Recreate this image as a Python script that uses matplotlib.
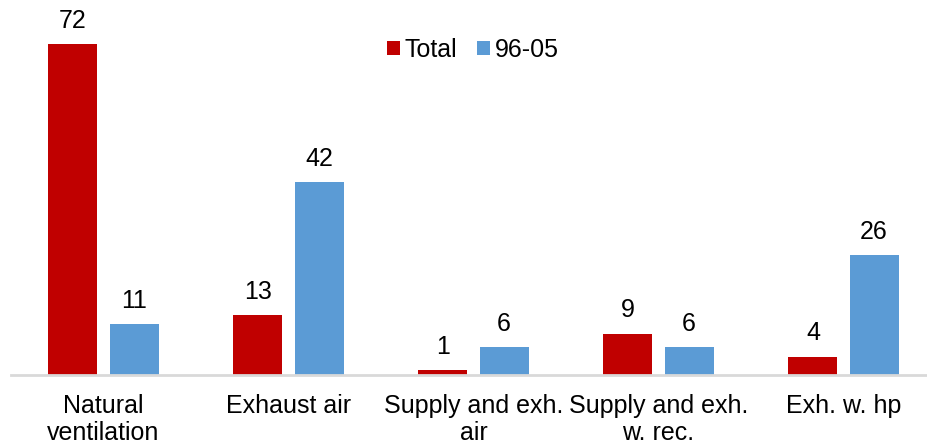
import matplotlib
matplotlib.use("Agg")
import matplotlib.pyplot as plt
import numpy as np

plt.rcParams['font.family'] = ['Liberation Sans', 'DejaVu Sans']

categories = ["Natural\nventilation", "Exhaust air", "Supply and exh.\nair",
              "Supply and exh.\nw. rec.", "Exh. w. hp"]
total = [72, 13, 1, 9, 4]
recent = [11, 42, 6, 6, 26]
series_names = ["Total", "96-05"]

RED = "#C00000"
BLUE = "#5B9BD5"

W, H = 927, 448
fig = plt.figure(figsize=(W / 100, H / 100), dpi=100)
ax = fig.add_axes([11 / W, 1 - 375 / H, 925 / W, 368 / H])

x = np.arange(len(categories))
bw = 0.265
off = 0.165
b1 = ax.bar(x - off, total, bw, color=RED, label=series_names[0], zorder=2)
b2 = ax.bar(x + off, recent, bw, color=BLUE, label=series_names[1], zorder=2)

ax.bar_label(b1, padding=8, fontsize=18, color="#000000")
ax.bar_label(b2, padding=8, fontsize=18, color="#000000")

ax.set_xlim(-0.5, len(categories) - 0.5)
ax.set_ylim(0, 80)
ax.set_yticks([])
ax.set_xticks(x)
ax.set_xticklabels(categories, fontsize=18, linespacing=1.15)
ax.tick_params(axis="x", length=0, pad=14)

for side in ("top", "right", "left"):
    ax.spines[side].set_visible(False)
ax.spines["bottom"].set_color("#D9D9D9")
ax.spines["bottom"].set_linewidth(2)
ax.spines["bottom"].set_zorder(3)

fig.legend(handles=[b1, b2], labels=series_names, loc="center",
           bbox_to_anchor=(473 / W, 1 - 50 / H), ncol=2, frameon=False,
           fontsize=18, handlelength=0.52, handleheight=0.52,
           handletextpad=0.2, columnspacing=0.8, borderpad=0)

fig.savefig("out.png", dpi=100)
